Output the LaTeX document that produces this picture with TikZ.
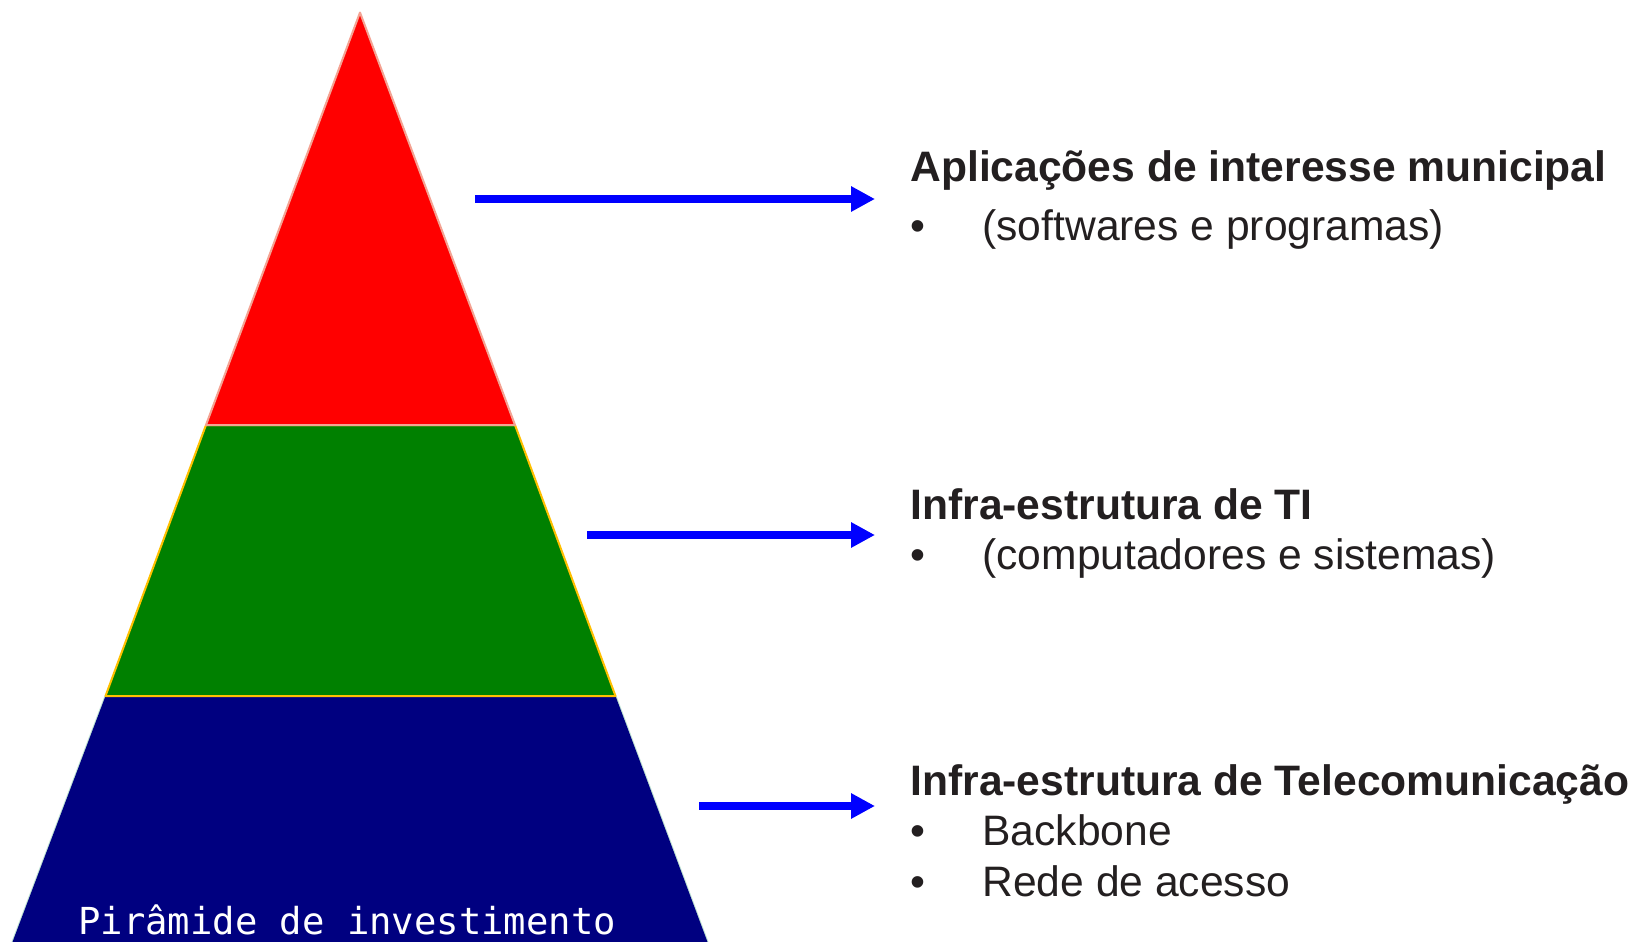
\documentclass[tikz,border=0pt]{standalone}
\usepackage{fontspec}
\setmainfont{Liberation Sans}
\newfontfamily\pyrfont{DejaVu Sans Mono}
\usepackage{xcolor}
\usetikzlibrary{arrows.meta,positioning}
\definecolor{topred}{HTML}{FF0000}
\definecolor{topedge}{HTML}{F4A393}
\definecolor{midgreen}{HTML}{008000}
\definecolor{midedge}{HTML}{FFC000}
\definecolor{basenavy}{HTML}{000080}
\definecolor{baseedge}{HTML}{BFE3D3}
\definecolor{arrowblue}{HTML}{0000FF}
\definecolor{txt}{HTML}{231F20}
\tikzstyle{tier} = [line width=1pt, line join=round]
\tikzstyle{headtext} = [anchor=base west, inner sep=0, text=txt,
    font=\fontsize{21.3pt}{25pt}\selectfont\bfseries]
\tikzstyle{itemtext} = [anchor=base west, inner sep=0, text=txt,
    font=\fontsize{21.3pt}{25pt}\selectfont]
\tikzstyle{bluearrow} = [draw=arrowblue, line width=4pt,
    -{Triangle[length=12pt, width=12pt]}]
\newcommand{\bul}{\makebox[36pt][l]{\textbullet}}

\begin{document}
\begin{tikzpicture}[x=0.5pt, y=-0.5pt]
\useasboundingbox (0,0) rectangle (1640,942);
\fill[white] (0,0) rectangle (1640,942);
\coordinate (apex) at (360,12.5);
\coordinate (rl) at (206,425);
\coordinate (rr) at (515,425);
\coordinate (gl) at (105.5,696);
\coordinate (gr) at (615.5,696);
\coordinate (bl) at (12.5,942);
\coordinate (br) at (707.5,942);
\draw[tier, fill=basenavy, draw=baseedge] (bl) -- (gl) -- (gr) -- (br);
\fill[basenavy] (bl) -- (gl) -- (gr) -- (br) -- cycle;
\draw[tier, fill=midgreen, draw=midedge] (gl) -- (rl) -- (rr) -- (gr) -- cycle;
\draw[tier, fill=topred, draw=topedge] (apex) -- (rl) -- (rr) -- cycle;
\node[anchor=base west, inner sep=0, text=white,
    font=\pyrfont\fontsize{18.6pt}{22pt}\selectfont] (pyr) at (78,934) {Pirâmide de investimento};

\node[headtext] (h1) at (910,181) {Aplicações de interesse municipal};
\node[itemtext] (i1) at (910,240) {\bul(softwares e programas)};
\node[headtext] (h2) at (910,519) {Infra-estrutura de TI};
\node[itemtext] (i2) at (910,569) {\bul(computadores e sistemas)};
\node[headtext] (h3) at (910,795) {Infra-estrutura de Telecomunicação};
\node[itemtext] (i3) at (910,845) {\bul Backbone};
\node[itemtext] (i4) at (910,896) {\bul Rede de acesso};

\coordinate (s1) at (475,199);
\coordinate (s2) at (587,535);
\coordinate (s3) at (699,806);
\draw[bluearrow] (s1) -- ([xshift=-17.5pt]s1 -| h1.west);
\draw[bluearrow] (s2) -- ([xshift=-17.5pt]s2 -| h2.west);
\draw[bluearrow] (s3) -- ([xshift=-17.5pt]s3 -| h3.west);
\end{tikzpicture}
\end{document}
